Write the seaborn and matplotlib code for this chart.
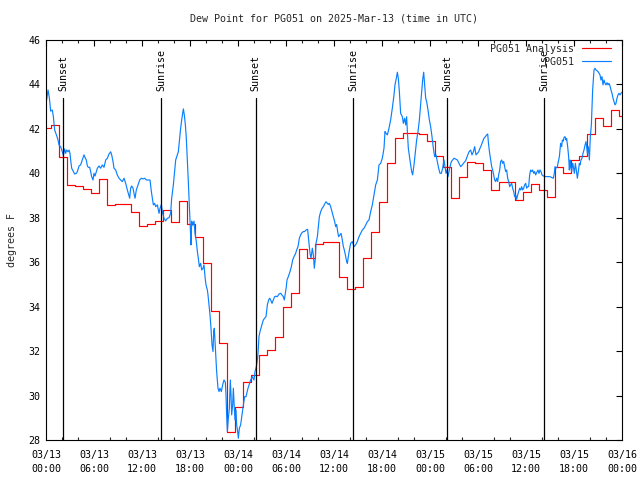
import numpy as np
import pandas as pd
import matplotlib
matplotlib.use("Agg")
import matplotlib.pyplot as plt
import matplotlib.dates as mdates
import matplotlib.transforms as mtransforms
import seaborn as sns

# ---------------- data ----------------
start = pd.Timestamp("2025-03-13 00:00")

# Analysis (hourly step values)
red_vals = [42.03, 42.18, 40.75, 39.46, 39.41, 39.3, 39.1, 39.73, 38.56, 38.6,
            38.62, 38.25, 37.64, 37.7, 37.87, 38.35, 37.81, 38.74, 37.72, 37.12,
            35.95, 33.8, 32.35, 28.35, 29.47, 30.6, 30.93, 31.83, 32.05, 32.63,
            33.97, 34.6, 36.58, 36.17, 36.82, 36.93, 36.9, 35.32, 34.78, 34.88,
            36.2, 37.38, 38.73, 40.48, 41.6, 41.8, 41.8, 41.78, 41.46, 40.8,
            40.3, 38.88, 39.82, 40.53, 40.45, 40.15, 39.25, 39.6, 39.6, 38.8,
            39.15, 39.51, 39.25, 38.92, 40.27, 40.0, 40.6, 40.78, 41.77, 42.5,
            42.15, 42.85, 42.6]
red_hours = [0.0] + [k - 0.4 for k in range(1, len(red_vals))]

# Observations
blue_hours = [
    0.0, 0.08, 0.25, 0.42, 0.58, 0.79, 0.92, 1.08, 1.33, 1.5, 1.63, 1.83, 2.04, 2.17, 2.33, 2.46,
    2.58, 2.75, 2.88, 3.0, 3.08, 3.21, 3.42, 3.58, 3.79, 3.92, 4.13, 4.33, 4.54, 4.75, 4.92, 5.04,
    5.17, 5.29, 5.46, 5.58, 5.71, 5.88, 6.0, 6.13, 6.29, 6.42, 6.63, 6.83, 7.04, 7.25, 7.46, 7.67,
    7.88, 8.08, 8.21, 8.38, 8.5, 8.71, 8.92, 9.13, 9.33, 9.54, 9.75, 9.96, 10.17, 10.29, 10.46,
    10.58, 10.71, 10.88, 11.0, 11.13, 11.29, 11.5, 11.71, 11.92, 12.13, 12.33, 12.54,
    12.75, 13.0, 13.17, 13.29, 13.42, 13.58, 13.71, 13.92, 14.13, 14.25, 14.42, 14.54, 14.75,
    14.96, 15.17, 15.375, 15.58, 15.71, 15.92, 16.08, 16.21, 16.42, 16.54, 16.67, 16.83, 16.96,
    17.08, 17.17, 17.29, 17.42, 17.54, 17.67, 17.79, 17.92, 18.04, 18.125, 18.21, 18.33, 18.5,
    18.625, 18.79, 18.92, 19.04, 19.17, 19.33, 19.46, 19.625, 19.75, 19.875, 20.0, 20.17, 20.25,
    20.375, 20.5, 20.625, 20.75, 20.875, 20.96, 21.04, 21.17, 21.33, 21.5, 21.625, 21.75, 21.92,
    22.08, 22.25, 22.42, 22.5, 22.58, 22.67, 22.79, 22.92, 23.04, 23.125, 23.21, 23.33, 23.42,
    23.54, 23.625, 23.75, 23.83, 23.96, 24.04, 24.17, 24.33, 24.5, 24.67,
    24.83, 25.0, 25.25, 25.58, 25.79, 26.0, 26.125, 26.29, 26.42, 26.5, 26.625, 26.75, 26.92,
    27.04, 27.17, 27.33, 27.5, 27.67, 27.83, 27.96, 28.08, 28.25, 28.42, 28.58, 28.75, 28.92,
    29.125, 29.33, 29.5, 29.67, 29.79, 29.92, 30.04, 30.125, 30.29, 30.5, 30.67, 30.83, 31.0,
    31.21, 31.33, 31.5, 31.67, 31.83, 32.0, 32.17, 32.33, 32.5, 32.7,
    32.875, 33.0, 33.125, 33.29, 33.42, 33.54, 33.67, 33.75, 33.92, 34.04, 34.17, 34.33, 34.5,
    34.67, 34.875, 35.0, 35.17, 35.29, 35.42, 35.58, 35.75, 35.92, 36.08, 36.21, 36.33, 36.46,
    36.58, 36.75, 36.875, 37.0, 37.17, 37.29, 37.42,
    37.58, 37.67, 37.875, 38.08, 38.29, 38.5, 38.71, 38.92, 39.125, 39.33, 39.54, 39.75, 39.96,
    40.17, 40.375, 40.58, 40.79, 41.0, 41.21, 41.42, 41.625, 41.83, 42.04, 42.25, 42.375, 42.5,
    42.67, 42.875, 43.08, 43.29, 43.5, 43.625, 43.79, 43.92, 44.04, 44.17, 44.33, 44.54, 44.67,
    44.83, 44.96, 45.08, 45.17, 45.29, 45.46, 45.58, 45.71, 45.83, 46.0, 46.17, 46.33, 46.5,
    46.67, 46.83, 46.96, 47.08, 47.21, 47.33, 47.46, 47.58, 47.75, 47.92, 48.08, 48.25, 48.42,
    48.58, 48.75, 48.92, 49.08, 49.25, 49.42, 49.58, 49.75,
    49.875, 50.0, 50.125, 50.25, 50.5, 50.67, 51.0, 51.42, 51.625, 51.83, 52.04, 52.25, 52.46,
    52.67, 52.875, 53.08, 53.25, 53.42, 53.58, 53.75, 53.92, 54.08, 54.25, 54.42, 54.58, 54.75,
    54.92, 55.08, 55.21, 55.33, 55.46, 55.58, 55.71, 55.83, 55.96, 56.08, 56.21, 56.33, 56.46,
    56.58, 56.71, 56.83, 56.96, 57.08, 57.21, 57.33, 57.46, 57.58, 57.71, 57.83, 57.96, 58.08,
    58.21, 58.33, 58.46, 58.58, 58.71, 58.83, 58.96, 59.08, 59.21, 59.33, 59.46, 59.58, 59.71,
    59.83, 59.96, 60.08, 60.21, 60.33, 60.46, 60.58, 60.71, 60.83, 60.96, 61.08, 61.21, 61.33,
    61.5, 61.625, 61.75, 61.875,
    62.0, 62.17, 62.58, 63.0, 63.42, 63.54, 63.625, 63.75, 63.92, 64.04, 64.17, 64.25, 64.33,
    64.46, 64.54, 64.67, 64.75, 64.875, 65.0, 65.08, 65.21, 65.33, 65.42, 65.5, 65.58, 65.71,
    65.83, 65.92, 66.04, 66.17, 66.29, 66.42, 66.54, 66.67, 66.75, 66.875, 67.0, 67.125, 67.25,
    67.375, 67.5, 67.58, 67.67, 67.79, 67.92, 68.04, 68.17, 68.25, 68.33, 68.42, 68.5, 68.625,
    68.75, 68.875, 69.0, 69.125, 69.25, 69.375, 69.5, 69.625, 69.75, 69.875, 70.0, 70.125,
    70.25, 70.375, 70.5, 70.625, 70.75, 70.875, 71.0, 71.125, 71.25, 71.375, 71.5, 71.625,
    71.75, 71.875, 72.0]
blue_vals = [
    43.5, 43.3, 43.75, 43.4, 42.8, 42.85, 42.55, 41.95, 41.7, 41.5, 41.27, 41.2, 40.97, 40.8, 41.1, 40.9,
    41.05, 40.97, 41.05, 40.9, 40.6, 40.23, 40.08, 39.97, 40.0, 40.08, 40.33, 40.38, 40.6, 40.83, 40.68, 40.6,
    40.33, 40.27, 40.27, 40.08, 39.85, 39.7, 40.0, 39.88, 40.08, 40.23, 40.33, 40.23, 40.38, 40.27, 40.6, 40.68,
    40.87, 40.97, 40.83, 40.53, 40.23, 40.15, 39.92, 39.78, 39.7, 39.63, 39.78, 39.55, 39.25, 39.1, 38.88,
    39.33, 39.43, 39.33, 39.1, 38.88, 39.25, 39.47, 39.7, 39.78, 39.75, 39.78, 39.7,
    39.7, 39.7, 39.18, 38.88, 38.58, 38.65, 38.5, 38.58, 38.2, 38.42, 38.6, 38.27, 37.98,
    37.86, 37.98, 38.0, 38.2, 38.88, 39.48, 40.08, 40.6, 40.83, 40.97, 41.43, 42.03, 42.4,
    42.7, 42.9, 42.63, 42.18, 41.58, 40.6, 39.63, 38.58, 37.53, 36.78, 37.85, 37.67, 37.85,
    37.3, 36.93, 36.48, 36.18, 35.8, 35.95, 35.65, 35.73, 35.88, 35.35, 34.98, 34.75, 34.53,
    34.08, 33.63, 33.03, 32.28, 31.98, 32.88, 33.03, 32.13, 31.08, 30.33, 30.18, 30.33, 30.18,
    30.48, 30.7, 30.6, 30.03, 29.13, 28.38, 28.98, 29.43, 30.7, 30.03, 29.13, 29.58, 30.33,
    29.43, 28.9, 29.35, 28.68, 28.38, 28.08, 28.53, 28.68, 29.13, 29.58,
    29.95, 29.95, 30.33, 30.7, 30.85, 30.7, 31.08, 31.3, 31.6, 31.9, 32.65, 32.88, 33.1,
    33.25, 33.4, 33.48, 33.55, 34.08, 34.3, 34.38, 34.3, 34.15, 34.3, 34.45, 34.47, 34.45,
    34.57, 34.6, 34.52, 34.45, 34.3, 34.6, 34.9, 35.2, 35.35, 35.58, 35.8, 36.1, 36.25,
    36.4, 36.55, 36.7, 37.08, 37.23, 37.33, 37.38, 37.38, 37.45, 37.48,
    36.85, 36.4, 36.18, 36.63, 36.33, 35.73, 36.18, 36.85, 37.15, 37.6, 38.05, 38.27, 38.42,
    38.5, 38.65, 38.72, 38.65, 38.6, 38.65, 38.5, 38.27, 38.05, 37.83, 37.6, 37.7, 37.38,
    37.15, 37.23, 37.3, 37.08, 36.7, 36.55, 36.33,
    36.03, 35.95, 36.45, 36.85, 36.93, 36.7, 36.78, 36.93, 37.15, 37.3, 37.45, 37.53, 37.67,
    37.83, 37.9, 38.27, 38.58, 39.03, 39.48, 39.7, 40.38, 40.45, 40.68, 41.13, 41.88, 41.8,
    41.73, 42.03, 42.4, 42.93, 43.53, 43.98, 44.28, 44.55, 44.28, 43.68, 42.7, 42.55, 42.25,
    42.48, 42.18, 42.55, 41.88, 41.13, 40.68, 40.38, 40.08, 39.93, 40.38, 40.98, 41.5, 41.88,
    42.4, 43.08, 43.6, 44.2, 44.55, 43.98, 43.38, 43.23, 42.85, 42.4, 42.1, 41.65, 41.13,
    40.75, 40.83, 40.53, 40.23, 40.0, 40.0, 40.23, 40.6,
    40.3, 40.0, 40.15, 39.85, 40.3, 40.53, 40.68, 40.6, 40.45, 40.3, 40.38, 40.48, 40.57,
    40.78, 40.97, 41.05, 40.83, 40.97, 41.2, 40.83, 40.9, 40.97, 41.13, 41.27, 41.43, 41.58,
    41.65, 41.73, 41.77, 41.27, 40.9, 40.6, 40.3, 40.15, 39.93, 39.7, 39.63, 39.78, 39.63,
    39.93, 40.15, 40.53, 40.6, 40.45, 40.53, 40.3, 40.08, 40.15, 39.78, 39.63, 39.4, 39.48,
    39.55, 39.33, 39.18, 38.95, 39.03, 38.83, 39.03, 39.18, 39.33, 39.25, 39.4, 39.25, 39.33,
    39.48, 39.55, 39.33, 39.4, 39.4, 39.93, 40.15, 40.08, 40.15, 40.0, 40.08, 39.93, 40.03,
    40.15, 40.0, 40.15, 40.08,
    39.93, 39.88, 39.85, 39.85, 39.78, 40.0, 40.3, 40.23, 40.3, 40.53, 40.75, 41.05, 41.35,
    41.2, 41.5, 41.45, 41.62, 41.65, 41.5, 41.57, 41.2, 40.75, 40.15, 40.6, 40.3, 40.08,
    40.45, 40.3, 40.0, 40.45, 40.15, 39.78, 40.08, 40.45, 40.38, 40.6, 40.68, 40.9, 41.05,
    41.27, 41.43, 41.2, 40.9, 41.2, 40.6, 41.65, 42.18, 43.0, 43.75, 44.2, 44.65, 44.73,
    44.65, 44.62, 44.58, 44.5, 44.43, 44.2, 44.35, 43.98, 44.2, 44.05, 43.98, 44.08,
    43.98, 44.05, 43.93, 43.75, 43.6, 43.38, 43.23, 43.08, 43.15, 43.38, 43.53, 43.6,
    43.53, 43.6, 43.65]

sun_hours = [2.17, 14.42, 26.2, 38.42, 50.17, 62.25]
sun_labels = ["Sunset", "Sunrise", "Sunset", "Sunrise", "Sunset", "Sunrise"]

y_ticks = [28, 30, 32, 34, 36, 38, 40, 42, 44, 46]
title = "Dew Point for PG051 on 2025-Mar-13 (time in UTC)"

# ---------------- frames ----------------
red_df = pd.DataFrame({
    "time": start + pd.to_timedelta(red_hours + [72.0], unit="h"),
    "dew": red_vals + [red_vals[-1]],
})
blue_df = pd.DataFrame({
    "time": start + pd.to_timedelta(blue_hours, unit="h"),
    "dew": blue_vals,
})

# ---------------- style ----------------
sns.set_theme(style="white")
plt.rcParams["font.family"] = ["DejaVu Sans Mono", "DejaVu Sans"]
plt.rcParams["axes.linewidth"] = 0.8
FS = 7.2

fig = plt.figure(figsize=(6.4, 4.8), dpi=100)
ax = fig.add_axes([46 / 640, 40 / 480, 576 / 640, 400 / 480])

sns.lineplot(data=red_df, x="time", y="dew", ax=ax, color="#ff0000", lw=0.85,
             drawstyle="steps-post", estimator=None, sort=False, label="PG051 Analysis")
sns.lineplot(data=blue_df, x="time", y="dew", ax=ax, color="#0a80ff", lw=0.85,
             estimator=None, sort=False, label="PG051")

# sunrise / sunset markers
trans = mtransforms.blended_transform_factory(ax.transData, ax.transAxes)
for h, lab in zip(sun_hours, sun_labels):
    t = mdates.date2num(start + pd.Timedelta(hours=h))
    ax.plot([t, t], [0, 0.855], color="black", lw=0.9, transform=trans, zorder=3)
    ax.text(t, 0.872, lab, rotation=90, ha="center", va="bottom",
            fontsize=FS, transform=trans, color="black")

ax.set_xlim(start, start + pd.Timedelta(hours=72))
ax.set_ylim(28, 46)
ax.set_yticks(y_ticks)
ax.set_yticklabels([str(v) for v in y_ticks])

ax.xaxis.set_major_locator(mdates.HourLocator(byhour=[0, 6, 12, 18]))
ax.xaxis.set_minor_locator(mdates.HourLocator(interval=2))
ax.xaxis.set_major_formatter(mdates.DateFormatter("%m/%d\n%H:%M"))

ax.tick_params(axis="both", which="major", direction="in", length=4.5, width=0.8,
               top=True, right=True, labelsize=FS, colors="black")
ax.tick_params(axis="x", which="minor", direction="in", length=2.3, width=0.8,
               top=True, bottom=True)
ax.tick_params(axis="x", which="major", pad=7)
ax.tick_params(axis="y", which="major", pad=4)
for lbl in ax.get_xticklabels():
    lbl.set_linespacing(1.55)

for s in ax.spines.values():
    s.set_color("black")
    s.set_linewidth(0.8)

ax.set_xlabel("")
ax.set_ylabel("degrees F", fontsize=FS, labelpad=8)
ax.set_title(title, fontsize=FS, pad=13)

ax.legend(loc="upper right", bbox_to_anchor=(0.981, 0.99), frameon=False,
          markerfirst=False, fontsize=FS, handlelength=2.9, handletextpad=0.8,
          borderpad=0, borderaxespad=0, labelspacing=0.3)

fig.savefig("out.png", dpi=100)
